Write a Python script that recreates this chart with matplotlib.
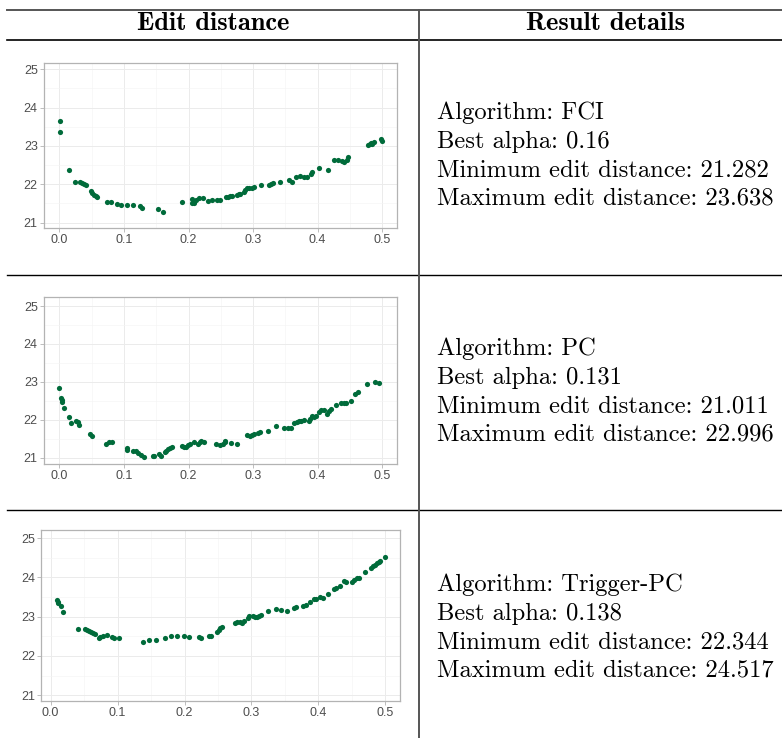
import matplotlib
matplotlib.use("Agg")
import matplotlib.pyplot as plt
from matplotlib.lines import Line2D
from matplotlib.ticker import MultipleLocator
import numpy as np

# FCI: alpha vs edit distance
fci_alpha = [0.001, 0.0015, 0.014, 0.024, 0.0325, 0.035, 0.038, 0.041, 0.0495, 0.051,
             0.053, 0.056, 0.058, 0.073, 0.080, 0.089, 0.096, 0.104, 0.1135, 0.124,
             0.128, 0.153, 0.16, 0.19, 0.205, 0.206, 0.209, 0.2115, 0.2155, 0.223,
             0.230, 0.237, 0.2445, 0.249, 0.2575, 0.261, 0.264, 0.268, 0.2745, 0.2775,
             0.280, 0.286, 0.288, 0.291, 0.294, 0.298, 0.302, 0.312, 0.324, 0.327,
             0.331, 0.3415, 0.355, 0.360, 0.367, 0.3725, 0.379, 0.384, 0.390, 0.391,
             0.402, 0.416, 0.426, 0.432, 0.4385, 0.4415, 0.445, 0.4475, 0.478, 0.4805,
             0.483, 0.485, 0.4875, 0.498, 0.4995]
fci_dist = [23.64, 23.37, 22.37, 22.06, 22.06, 22.03, 22.00, 21.97, 21.83, 21.78,
            21.71, 21.70, 21.66, 21.55, 21.55, 21.49, 21.46, 21.46, 21.47, 21.43,
            21.38, 21.36, 21.28, 21.54, 21.62, 21.52, 21.51, 21.58, 21.64, 21.64,
            21.56, 21.60, 21.59, 21.59, 21.66, 21.68, 21.70, 21.69, 21.72, 21.75,
            21.75, 21.79, 21.84, 21.91, 21.90, 21.91, 21.93, 21.97, 21.97, 22.01,
            22.03, 22.06, 22.10, 22.06, 22.19, 22.22, 22.19, 22.19, 22.28, 22.31,
            22.43, 22.38, 22.63, 22.62, 22.61, 22.58, 22.63, 22.70, 23.03, 23.05,
            23.07, 23.06, 23.10, 23.17, 23.13]

# PC
pc_alpha = [0.0, 0.0026, 0.0036, 0.0046, 0.0067, 0.0154, 0.0185, 0.0256, 0.0287, 0.030,
            0.0467, 0.050, 0.0713, 0.0774, 0.0815, 0.104, 0.105, 0.114, 0.119, 0.122,
            0.127, 0.131, 0.1446, 0.147, 0.154, 0.157, 0.163, 0.1656, 0.1687, 0.171,
            0.175, 0.190, 0.193, 0.196, 0.199, 0.203, 0.208, 0.215, 0.2174, 0.2195,
            0.2246, 0.242, 0.249, 0.253, 0.256, 0.257, 0.265, 0.275, 0.291, 0.295,
            0.2985, 0.3015, 0.3077, 0.311, 0.323, 0.336, 0.348, 0.354, 0.358, 0.364,
            0.368, 0.371, 0.375, 0.3795, 0.386, 0.388, 0.392, 0.395, 0.397, 0.4026,
            0.405, 0.410, 0.415, 0.418, 0.4215, 0.4287, 0.436, 0.441, 0.4436, 0.452,
            0.458, 0.4626, 0.476, 0.489, 0.495]
pc_dist = [22.83, 22.56, 22.52, 22.47, 22.30, 22.07, 21.91, 21.96, 21.93, 21.87,
           21.62, 21.56, 21.37, 21.40, 21.40, 21.24, 21.20, 21.16, 21.18, 21.11,
           21.07, 21.01, 21.05, 21.04, 21.09, 21.05, 21.15, 21.18, 21.23, 21.26,
           21.27, 21.31, 21.27, 21.28, 21.32, 21.35, 21.40, 21.36, 21.40, 21.43,
           21.41, 21.36, 21.32, 21.35, 21.41, 21.45, 21.39, 21.37, 21.59, 21.56,
           21.59, 21.62, 21.65, 21.67, 21.71, 21.82, 21.78, 21.78, 21.78, 21.91,
           21.95, 21.96, 21.96, 21.99, 21.97, 22.01, 22.10, 22.06, 22.09, 22.20,
           22.26, 22.25, 22.15, 22.22, 22.27, 22.40, 22.43, 22.43, 22.43, 22.48,
           22.68, 22.72, 22.93, 23.00, 22.97]

# Trigger-PC
tpc_alpha = [0.01, 0.0105, 0.0115, 0.016, 0.018, 0.041, 0.052, 0.055, 0.058, 0.061,
             0.064, 0.066, 0.072, 0.074, 0.078, 0.084, 0.092, 0.095, 0.102, 0.138,
             0.1476, 0.1575, 0.1705, 0.1795, 0.1884, 0.1994, 0.2064, 0.222, 0.2243, 0.236,
             0.239, 0.249, 0.2513, 0.2537, 0.256, 0.275, 0.279, 0.283, 0.286, 0.289,
             0.295, 0.297, 0.303, 0.306, 0.309, 0.312, 0.314, 0.325, 0.336, 0.344,
             0.353, 0.364, 0.367, 0.377, 0.381, 0.387, 0.393, 0.396, 0.403, 0.407,
             0.415, 0.423, 0.427, 0.433, 0.438, 0.441, 0.450, 0.454, 0.457, 0.460,
             0.469, 0.479, 0.4815, 0.4845, 0.4875, 0.49, 0.4925, 0.499]
tpc_dist = [23.43, 23.37, 23.34, 23.26, 23.12, 22.68, 22.68, 22.66, 22.63, 22.62,
            22.58, 22.56, 22.46, 22.48, 22.51, 22.54, 22.47, 22.46, 22.46, 22.36,
            22.41, 22.40, 22.46, 22.51, 22.50, 22.51, 22.47, 22.49, 22.46, 22.51,
            22.51, 22.62, 22.66, 22.70, 22.74, 22.85, 22.87, 22.87, 22.84, 22.89,
            22.97, 23.01, 23.03, 23.00, 22.99, 23.03, 23.04, 23.14, 23.20, 23.18,
            23.14, 23.23, 23.25, 23.27, 23.30, 23.38, 23.45, 23.46, 23.49, 23.47,
            23.59, 23.71, 23.72, 23.77, 23.92, 23.89, 23.88, 23.94, 23.98, 23.99,
            24.13, 24.23, 24.28, 24.32, 24.36, 24.40, 24.43, 24.52]

details = [
    ["Algorithm: FCI", "Best alpha: 0.16", "Minimum edit distance: 21.282", "Maximum edit distance: 23.638"],
    ["Algorithm: PC", "Best alpha: 0.131", "Minimum edit distance: 21.011", "Maximum edit distance: 22.996"],
    ["Algorithm: Trigger-PC", "Best alpha: 0.138", "Minimum edit distance: 22.344", "Maximum edit distance: 24.517"],
]

W, H = 782, 738
fig = plt.figure(figsize=(W / 100, H / 100), dpi=100)

# axes boxes in pixels: left, top, right, bottom
boxes = [(44, 62.7, 397, 228), (44, 297.3, 397, 464), (41.3, 530, 400, 701)]
xlims = [(-0.024, 0.523), (-0.024, 0.523), (-0.014, 0.522)]
ylims = [(20.86, 25.17), (20.83, 25.23), (20.85, 25.21)]
series = [(fci_alpha, fci_dist), (pc_alpha, pc_dist), (tpc_alpha, tpc_dist)]

for (l, t, r, b), xl, yl, (xs, ys) in zip(boxes, xlims, ylims, series):
    ax = fig.add_axes([l / W, 1 - b / H, (r - l) / W, (b - t) / H])
    ax.scatter(xs, ys, s=14, color="#006b3a", linewidths=0, zorder=3)
    ax.set_xlim(xl)
    ax.set_ylim(yl)
    ax.xaxis.set_major_locator(MultipleLocator(0.1))
    ax.xaxis.set_minor_locator(MultipleLocator(0.05))
    ax.yaxis.set_major_locator(MultipleLocator(1))
    ax.yaxis.set_minor_locator(MultipleLocator(0.5))
    ax.xaxis.set_major_formatter(matplotlib.ticker.FormatStrFormatter("%.1f"))
    ax.grid(which="major", color="#ebebeb", linewidth=0.7)
    ax.grid(which="minor", color="#f4f4f4", linewidth=0.4)
    ax.set_axisbelow(True)
    for sp in ax.spines.values():
        sp.set_color("#b3b3b3")
        sp.set_linewidth(0.9)
    ax.tick_params(which="major", length=3, width=0.6, color="#b3b3b3",
                   labelsize=9, labelcolor="#4d4d4d", pad=1.5)
    ax.tick_params(which="minor", length=0)
    for lab in ax.get_xticklabels() + ax.get_yticklabels():
        lab.set_family("Liberation Sans")

# table rules
def hline(y, x0, x1, color="black", lw=1.2):
    fig.add_artist(Line2D([x0 / W, x1 / W], [1 - y / H, 1 - y / H], color=color, linewidth=lw))

hline(10, 7, W, color="#555555", lw=1.4)
hline(40, 7, W, lw=1.2)
hline(275, 7, W, lw=1.0)
hline(510, 7, W, lw=1.0)
fig.add_artist(Line2D([419 / W, 419 / W], [1 - 10 / H, 0], color="#555555", linewidth=1.4))

fig.text(213 / W, 1 - 24 / H, "Edit distance", family="cmb10", fontsize=19,
         ha="center", va="center")
fig.text(605 / W, 1 - 24 / H, "Result details", family="cmb10", fontsize=19,
         ha="center", va="center")

first_y = [113, 349, 585]
for y0, lines in zip(first_y, details):
    for i, line in enumerate(lines):
        fig.text(437 / W, 1 - (y0 + i * 28.6) / H, line, family="cmr10", fontsize=17.7,
                 ha="left", va="center")

fig.savefig("out.png", dpi=100)
